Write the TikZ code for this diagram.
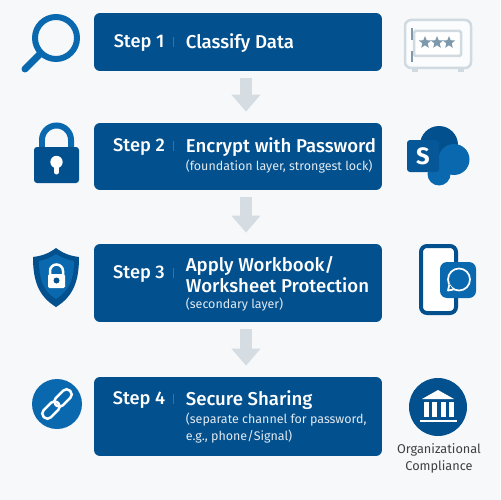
\documentclass[tikz,border=0pt]{standalone}
\usepackage{fontspec}
\setmainfont{Fira Sans}
\newfontfamily\headfont{Fira Sans Medium}
\usetikzlibrary{arrows.meta,shapes.geometric}
\definecolor{bgpage}{HTML}{F6F8FA}
\definecolor{navy}{HTML}{03508E}
\definecolor{midblue}{HTML}{0A69AE}
\definecolor{flowgray}{HTML}{D5DDE2}
\definecolor{safegray}{HTML}{D0DAE0}
\definecolor{stargray}{HTML}{7F99AC}
\definecolor{sepblue}{HTML}{3A72A6}
\tikzset{
	stepbox/.style={fill=navy,rounded corners=0.12cm,minimum width=5.76cm,inner sep=0pt},
	steplabel/.style={text=white,font=\fontsize{10.4}{12}\selectfont\headfont,inner sep=0pt},
	titlelabel/.style={text=white,font=\fontsize{10.6}{11.7}\selectfont\headfont,inner sep=0pt,anchor=west,align=left},
	sublabel/.style={text=white!88!navy,font=\fontsize{7.1}{9.2}\selectfont,inner sep=0pt,anchor=west,align=left},
	flowarrow/.style={draw=flowgray,line width=0.24cm,-{Triangle[width=0.56cm,length=0.34cm]},shorten <=0.14cm,shorten >=0.22cm},
	sepline/.style={draw=sepblue,line width=0.4pt}
}
\begin{document}
\begin{tikzpicture}[x=0.02cm,y=-0.02cm]
				\fill[bgpage] (0,0) rectangle (500,500);
				\useasboundingbox (0,0) rectangle (500,500);
				\node[stepbox,minimum height=1.16cm] (step1) at (238,42){};
				\node[stepbox,minimum height=1.34cm] (step2) at (238,156.5){};
				\node[stepbox,minimum height=1.56cm] (step3) at (238,283){};
				\node[stepbox,minimum height=1.58cm] (step4) at (238,416.5){};
				\draw[flowarrow] (step1.south-|246,0) -- (step2.north-|246,0);
				\draw[flowarrow] (step2.south-|246,0) -- (step3.north-|246,0);
				\draw[flowarrow] (step3.south-|246,0) -- (step4.north-|246,0);
				\node[steplabel] (num1) at (139,43.5){Step 1};
				\node[steplabel] (num2) at (139,147.5){Step 2};
				\node[steplabel] (num3) at (139,274.5){Step 3};
				\node[steplabel] (num4) at (139,400.5){Step 4};
				\draw[sepline] (173,37) -- (173,47);
				\draw[sepline] (173,141) -- (173,151);
				\draw[sepline] (173,268) -- (173,278);
				\draw[sepline] (173,394) -- (173,404);
				\node[titlelabel] (title1) at (185.5,43){Classify Data};
				\node[titlelabel] (title2) at (185.5,147){Encrypt with Password};
				\node[sublabel] (sub2) at (185.5,167){(foundation layer, strongest lock)};
				\node[titlelabel] (title3) at (185.5,274.5){Apply Workbook/\\Worksheet Protection};
				\node[sublabel] (sub3) at (185.5,305){(secondary layer)};
				\node[titlelabel] (title4) at (185.5,400){Secure Sharing};
				\node[sublabel] (sub4) at (185.5,428){(separate channel for password,\\e.g., phone/Signal)};
				\draw[midblue,line width=0.12cm] (56,38) circle(21);
				\draw[midblue,line width=0.14cm,line cap=round] (40,54) -- (25,69);
				\draw[midblue,line width=0.12cm] (42,150) -- (42,140) arc (180:360:14.5) -- (71,150);
				\fill[navy,rounded corners=0.06cm] (34,147) rectangle (79,183);
				\fill[white] (56.5,162) circle(6.2);
				\draw[white,line width=0.1cm,line cap=round] (56.5,164) -- (56.5,172);
				\fill[navy] (56,248) .. controls (48,254) and (41,256) .. (33,257) .. controls (33,280) and (38,296) .. (56,307) .. controls (74,296) and (79,280) .. (79,257) .. controls (71,256) and (64,254) .. (56,248) -- cycle;
				\fill[midblue] (56,254) .. controls (50,258) and (45,260) .. (39,261) .. controls (39,279) and (43,291) .. (56,299) .. controls (69,291) and (74,279) .. (74,261) .. controls (68,260) and (62,258) .. (56,254) -- cycle;
				\draw[white,line width=0.05cm] (50,275) -- (50,271) arc (180:360:6.5) -- (63,275);
				\fill[white,rounded corners=0.03cm] (48,274) rectangle (65,288);
				\fill[navy] (56.5,280.5) circle(3);
				\fill[midblue] (57,404) circle(25);
				\draw[white,line width=0.05cm,rounded corners=0.09cm,rotate around={45:(51,410)}] (41,405) rectangle (61,415);
				\draw[white,line width=0.05cm,rounded corners=0.09cm,rotate around={45:(63,398)}] (53,393) rectangle (73,403);
				\fill[safegray] (412,66) rectangle (418,72);
				\fill[safegray] (458,66) rectangle (464,72);
				\draw[safegray,fill=white!60!bgpage,line width=0.05cm,rounded corners=0.12cm] (405,20) rectangle (471,68);
				\draw[safegray,fill=white,line width=0.05cm,rounded corners=0.03cm] (414,31) rectangle (461,56);
				\draw[stargray,line width=0.05cm] (412,28) -- (412,40);
				\draw[stargray,line width=0.05cm] (412,51) -- (412,62);
				\foreach \sx/\sname in {425/a,437/b,449/c}{
					\node[star,star points=5,star point ratio=2.3,fill=stargray,inner sep=0pt,minimum size=0.26cm] (star\sname) at (\sx,42.5){};
				}
				\fill[navy] (439,145) circle(19);
				\fill[midblue] (454,159.5) circle(15.5);
				\fill[midblue] (439,174) circle(11.5);
				\fill[navy!70!midblue,rounded corners=0.06cm] (407,140) rectangle (439,172);
				\node[text=white,font=\fontsize{13.5}{15}\selectfont\bfseries,inner sep=0pt] (spoint) at (423,156){S};
				\draw[navy,fill=white,line width=0.08cm,rounded corners=0.12cm] (421,246) rectangle (456,313);
				\fill[midblue,rounded corners=0.14cm] (440,262) rectangle (476,298);
				\draw[white,line width=0.035cm] (459,279.5) circle(11);
				\fill[midblue] (449,284) -- (454,291) -- (447,291) -- cycle;
				\draw[white,line width=0.035cm,line join=round] (449.2,285) -- (448,290.5) -- (453.5,289.5);
				\fill[navy] (438,407) circle(29);
				\fill[white] (438,390) -- (454,399) -- (422,399) -- cycle;
				\foreach \cx in {426,434.5,443,451}{
					\fill[white] (\cx-2.5,402) rectangle (\cx+2.5,417);
				}
				\fill[white] (420,419.5) rectangle (457,421.5);
				\node[text=black!75,font=\fontsize{7.25}{9.6}\selectfont,inner sep=0pt,align=center] (orgtext) at (439,458.5){Organizational\\Compliance};
\end{tikzpicture}
\end{document}
